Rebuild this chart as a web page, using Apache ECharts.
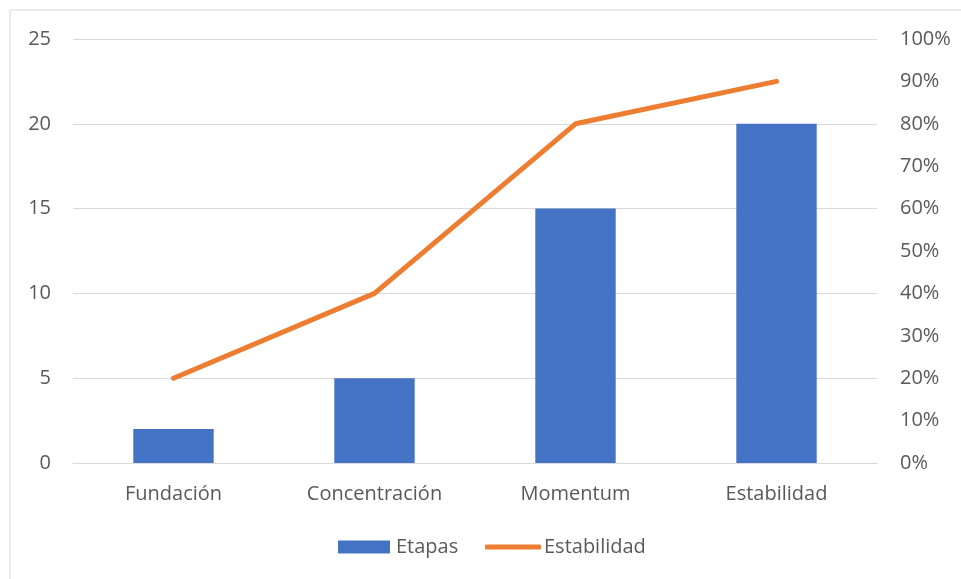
<!DOCTYPE html>
<html>
<head>
<meta charset="utf-8">
<script src="https://cdn.jsdelivr.net/npm/echarts@6/dist/echarts.min.js"></script>
<style>
  html, body { margin: 0; padding: 0; background: #fff; }
  #chart { width: 961px; height: 579px; }
</style>
</head>
<body>
<div id="chart"></div>
<script>
// Stages of development and their stability level
const categories = ['Fundación', 'Concentración', 'Momentum', 'Estabilidad'];
const etapas = [2, 5, 15, 20];
const estabilidad = [20, 40, 80, 90]; // percent

const textColor = '#595959';
const fontFamily = '"Open Sans", "Noto Sans", sans-serif';
const fontSize = 20;

const chart = echarts.init(document.getElementById('chart'));
chart.setOption({
  animation: false,
  textStyle: { fontFamily: fontFamily },
  graphic: [{
    type: 'rect',
    shape: { x: 10, y: 10, width: 1000, height: 1000 },
    style: { fill: 'none', stroke: '#d9d9d9', lineWidth: 1 },
    silent: true
  }],
  grid: { left: 73, right: 84, top: 39, bottom: 116 },
  legend: [{
    left: 338,
    top: 537,
    itemWidth: 52,
    itemHeight: 13,
    itemGap: 6,
    padding: 0,
    textStyle: { color: textColor, fontSize: fontSize, fontFamily: fontFamily, padding: [0, 0, 0, 1] },
    data: [{ name: 'Etapas', icon: 'rect' }]
  }, {
    left: 485,
    top: 537,
    itemWidth: 56,
    itemHeight: 5,
    padding: 0,
    textStyle: { color: textColor, fontSize: fontSize, fontFamily: fontFamily, padding: [0, 0, 0, -2] },
    data: [{ name: 'Estabilidad', icon: 'roundRect' }]
  }],
  xAxis: {
    type: 'category',
    data: categories,
    axisLine: { lineStyle: { color: '#d9d9d9', width: 1 } },
    axisTick: { show: false },
    axisLabel: { color: textColor, fontSize: fontSize, margin: 21 }
  },
  yAxis: [{
    type: 'value',
    min: 0, max: 25, interval: 5,
    axisLine: { show: false },
    axisTick: { show: false },
    splitLine: { lineStyle: { color: '#d9d9d9', width: 1 } },
    axisLabel: { color: textColor, fontSize: fontSize, margin: 22 }
  }, {
    type: 'value',
    min: 0, max: 100, interval: 10,
    axisLine: { show: false },
    axisTick: { show: false },
    splitLine: { show: false },
    axisLabel: { color: textColor, fontSize: fontSize, margin: 23, formatter: '{value}%' }
  }],
  series: [{
    name: 'Etapas',
    type: 'bar',
    data: etapas,
    barWidth: '40%',
    itemStyle: { color: '#4472C4' }
  }, {
    name: 'Estabilidad',
    type: 'line',
    yAxisIndex: 1,
    data: estabilidad,
    symbol: 'none',
    lineStyle: { color: '#ED7D31', width: 5, cap: 'round', join: 'round' },
    itemStyle: { color: '#ED7D31' }
  }]
});
</script>
</body>
</html>
